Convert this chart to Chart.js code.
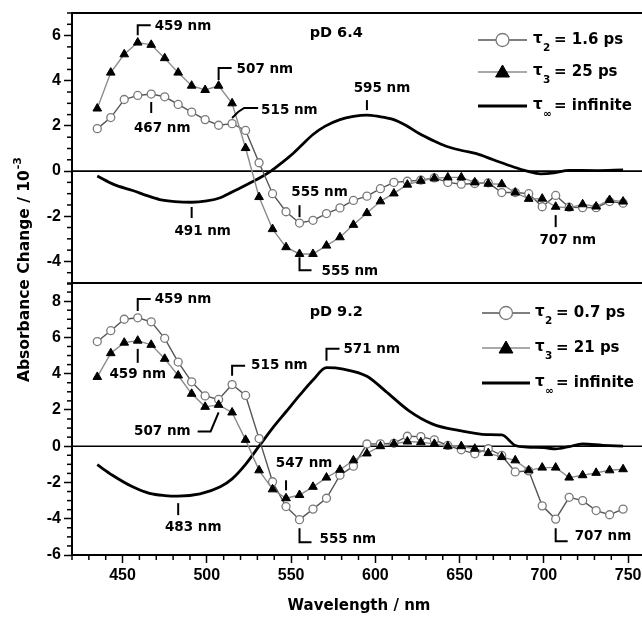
<!DOCTYPE html>
<html><head><meta charset="utf-8">
<script src="https://cdn.jsdelivr.net/npm/chart.js@4.4.1/dist/chart.umd.min.js"></script>
<style>
html,body{margin:0;padding:0;background:#fff;overflow:hidden;width:642px;height:618px;}
canvas{position:absolute;left:0;top:0;}
</style></head><body>
<canvas id="cTop" width="660" height="618"></canvas>
<canvas id="cBot" width="660" height="618"></canvas>
<script>
// ---- data ----
const wavelengths = [435,443,451,459,467,475,483,491,499,507,515,523,531,539,547,555,563,571,579,587,595,603,611,619,627,635,643,651,659,667,675,683,691,699,707,715,723,731,739,747];

// pD 6.4
const top_tau2 = [1.88,2.37,3.17,3.35,3.41,3.29,2.95,2.61,2.28,2.03,2.1,1.8,0.37,-1.0,-1.8,-2.3,-2.18,-1.88,-1.63,-1.3,-1.11,-0.78,-0.5,-0.45,-0.4,-0.3,-0.5,-0.58,-0.55,-0.52,-0.95,-0.95,-1.0,-1.58,-1.08,-1.6,-1.62,-1.62,-1.35,-1.42];
const top_tau3 = [2.77,4.36,5.17,5.69,5.59,5.0,4.36,3.78,3.59,3.78,3.0,1.02,-1.15,-2.57,-3.37,-3.67,-3.67,-3.3,-2.93,-2.38,-1.86,-1.34,-0.99,-0.6,-0.43,-0.32,-0.28,-0.28,-0.5,-0.56,-0.58,-0.95,-1.23,-1.22,-1.58,-1.63,-1.47,-1.57,-1.28,-1.35];
const top_inf_wl = [435,445,456,465,472,481,491,500,508,513,519,525,531,538,545,551,557,563,570,579,587,595,602,610,618,626,634,642,652,660,670,682,690,698,706,715,731,747];
const top_inf = [-0.22,-0.6,-0.86,-1.1,-1.26,-1.35,-1.38,-1.32,-1.18,-1.0,-0.78,-0.55,-0.32,0.0,0.4,0.77,1.2,1.62,1.98,2.28,2.42,2.48,2.42,2.3,2.03,1.66,1.36,1.1,0.9,0.77,0.5,0.18,0.0,-0.12,-0.08,0.03,0.02,0.05];

// pD 9.2
const bot_tau2 = [5.77,6.37,7.0,7.08,6.86,5.95,4.64,3.55,2.77,2.58,3.4,2.8,0.42,-1.96,-3.33,-4.05,-3.47,-2.87,-1.6,-1.1,0.12,0.13,0.16,0.55,0.53,0.35,0.04,-0.2,-0.42,-0.14,-0.51,-1.42,-1.36,-3.29,-4.02,-2.82,-3.0,-3.55,-3.78,-3.47];
const bot_tau3 = [3.82,5.13,5.71,5.82,5.59,4.82,3.9,2.89,2.17,2.28,1.86,0.35,-1.33,-2.38,-2.87,-2.69,-2.24,-1.73,-1.3,-0.78,-0.4,0.0,0.13,0.26,0.22,0.13,0.0,0.0,-0.14,-0.38,-0.6,-0.78,-1.33,-1.18,-1.18,-1.73,-1.6,-1.47,-1.33,-1.27];
const bot_inf_wl = [435,444,456,466,475,483,496,508,515,523,531,539,547,555,563,571,581,595,606,620,634,650,666,675,683,690,700,707,715,723,735,747];
const bot_inf = [-1.02,-1.6,-2.24,-2.6,-2.72,-2.75,-2.63,-2.24,-1.8,-1.0,0.0,1.0,1.9,2.8,3.65,4.33,4.25,3.86,3.04,1.95,1.22,0.86,0.64,0.62,0.04,-0.05,-0.08,-0.15,-0.02,0.12,0.05,0.0];

const top_labels = ['1.6 ps','25 ps','infinite'];
const bot_labels = ['0.7 ps','21 ps','infinite'];
const xTickLabels = [450,500,550,600,650,700,750];
const yTickLabelsTop = [-4,-2,0,2,4,6];
const yTickLabelsBot = [-6,-4,-2,0,2,4,6,8];

// ---- styling ----
const ANN_FONT = 'bold 13.5px "DejaVu Sans"';
const LEG_FONT = 'bold 15px "DejaVu Sans"';
const SUB_FONT = 'bold 10.5px "DejaVu Sans"';
const TICK_FONT = {family:'"Liberation Sans", Arial, sans-serif', weight:'bold', size:16};

const pts = (xs, ys) => xs.map((x,i)=>({x, y: ys[i]}));

function datasets(t2, t3, wlInf, inf){
  return [
    {label:'tau3', data:pts(wavelengths,t3), borderColor:'#8c8c8c', borderWidth:1.4, pointStyle:'triangle',
     pointRadius:5, pointBackgroundColor:'#000', pointBorderColor:'#000', pointBorderWidth:1, tension:0},
    {label:'tau2', data:pts(wavelengths,t2), borderColor:'#555', borderWidth:1.4, pointStyle:'circle',
     pointRadius:4, pointBackgroundColor:'#fff', pointBorderColor:'#7a7a7a', pointBorderWidth:1.3, tension:0},
    {label:'tauInf', data:pts(wlInf,inf), borderColor:'#000', borderWidth:2.8, pointRadius:0,
     cubicInterpolationMode:'monotone'}
  ];
}

const panelPlugin = {
  id:'panel',
  beforeDatasetsDraw(chart, args, o){
    const {ctx, chartArea:a, scales:{y}} = chart;
    ctx.save();
    ctx.strokeStyle='#000'; ctx.lineWidth=1.6;
    const y0 = y.getPixelForValue(0);
    ctx.beginPath(); ctx.moveTo(a.left, y0); ctx.lineTo(a.right+20, y0); ctx.stroke();
    ctx.restore();
  },
  afterDatasetsDraw(chart, args, o){
    const {ctx, chartArea:a, scales:{x,y}} = chart;
    ctx.save();
    ctx.strokeStyle='#000'; ctx.fillStyle='#000';
    ctx.lineWidth=2;
    ctx.beginPath(); ctx.moveTo(a.left-1, a.top); ctx.lineTo(a.right+20, a.top); ctx.stroke();
    ctx.lineWidth=1.5;
    y.ticks.forEach(t=>{
      if (Math.abs(t.value % 2) > 1e-6){
        const py = y.getPixelForValue(t.value);
        ctx.beginPath(); ctx.moveTo(a.left-5, py); ctx.lineTo(a.left, py); ctx.stroke();
      }
    });
    if (o.xMinor){
      x.ticks.forEach(t=>{
        if (Math.abs(t.value % 50) > 1e-6){
          const px = x.getPixelForValue(t.value);
          ctx.beginPath(); ctx.moveTo(px, a.bottom); ctx.lineTo(px, a.bottom+5); ctx.stroke();
        }
      });
    }
    ctx.lineWidth=2;
    (o.annotations||[]).forEach(an=>{
      const px = x.getPixelForValue(an.at[0]), py = y.getPixelForValue(an.at[1]);
      if (an.path){
        ctx.beginPath();
        an.path.forEach(([dx,dy],i)=> i ? ctx.lineTo(px+dx,py+dy) : ctx.moveTo(px+dx,py+dy));
        ctx.stroke();
      }
      ctx.font = an.font || ANN_FONT;
      ctx.textAlign = an.align || 'center';
      ctx.textBaseline = 'middle';
      ctx.fillText(an.text, px+an.t[0], py+an.t[1]);
    });
    const L = o.legend;
    if (L){
      L.rows.forEach((r,i)=>{
        const ry = L.y[i];
        ctx.lineWidth = r.kind==='line' ? 2.8 : 1.5;
        ctx.strokeStyle = r.kind==='line' ? '#000' : (r.kind==='circle' ? '#555' : '#8c8c8c');
        ctx.beginPath(); ctx.moveTo(L.x0, ry); ctx.lineTo(L.x1, ry); ctx.stroke();
        const mx = (L.x0+L.x1)/2;
        if (r.kind==='circle'){
          ctx.fillStyle='#fff'; ctx.strokeStyle='#7a7a7a'; ctx.lineWidth=1.3;
          Chart.helpers.drawPoint(ctx, {pointStyle:'circle', radius:6.5, borderWidth:1.3}, mx, ry);
        } else if (r.kind==='triangle'){
          ctx.fillStyle='#000'; ctx.strokeStyle='#000'; ctx.lineWidth=1;
          Chart.helpers.drawPoint(ctx, {pointStyle:'triangle', radius:8, borderWidth:1}, mx, ry+1);
        }
        ctx.fillStyle='#000';
        ctx.textAlign='left'; ctx.textBaseline='middle';
        ctx.font = LEG_FONT;
        ctx.fillText('\u03c4', L.tx, ry-1);
        ctx.font = SUB_FONT;
        ctx.fillText(r.sub, L.tx+10, ry+8);
        ctx.font = LEG_FONT;
        ctx.fillText('= ' + r.text, L.tx+21, ry);
      });
    }
    ctx.restore();
  },
  afterDraw(chart, args, o){
    const {ctx} = chart;
    if (!o.titles) return;
    ctx.save();
    ctx.fillStyle='#000';
    ctx.font='bold 15px "DejaVu Sans"';
    ctx.textAlign='center'; ctx.textBaseline='middle';
    ctx.fillText('Wavelength / nm', 359, 606);
    ctx.translate(25, 270);
    ctx.rotate(-Math.PI/2);
    const main = 'Absorbance Change / 10';
    ctx.font='bold 15.5px "DejaVu Sans"';
    const w1 = ctx.measureText(main).width;
    ctx.font='bold 11px "DejaVu Sans"';
    const w2 = ctx.measureText('-3').width;
    const sx = -(w1+w2)/2;
    ctx.textAlign='left';
    ctx.font='bold 15.5px "DejaVu Sans"';
    ctx.fillText(main, sx, 0);
    ctx.font='bold 11px "DejaVu Sans"';
    ctx.fillText('-3', sx+w1+1, -7);
    ctx.restore();
  }
};

function yScale(min, max, labels){
  return {
    min, max,
    afterFit(s){ s.width = 72; },
    ticks:{stepSize:0.5, autoSkip:false, color:'#000', font:TICK_FONT, padding:3,
      callback:(v)=> labels.includes(v) ? String(v) : ''},
    grid:{drawOnChartArea:false, drawTicks:true, tickLength:8, tickWidth:1.5,
      tickColor:(c)=> (c.tick && Math.abs(c.tick.value % 2) < 1e-6) ? '#000' : 'rgba(0,0,0,0)'},
    border:{display:true, color:'#000', width:2}
  };
}

const commonOpts = {
  responsive:false, animation:false, devicePixelRatio:1,
  plugins:{legend:{display:false}, tooltip:{enabled:false}}
};

new Chart(document.getElementById('cTop'), {
  type:'line',
  data:{datasets:datasets(top_tau2, top_tau3, top_inf_wl, top_inf)},
  options:{...commonOpts,
    layout:{padding:{left:0, top:13, right:15, bottom:618-284}},
    scales:{
      x:{type:'linear', min:420, max:760, display:false},
      y:yScale(-5, 7, yTickLabelsTop)
    },
    plugins:{...commonOpts.plugins,
      panel:{
        annotations:[
          {text:'459 nm', at:[459,6.02], path:[[0,0],[0,-10],[13,-10]], t:[17,-9], align:'left'},
          {text:'507 nm', at:[507,4.03], path:[[0,0],[0,-12],[13,-12]], t:[18,-11], align:'left'},
          {text:'515 nm', at:[515,2.35], path:[[0,0],[6,-6],[12,-10],[26,-10]], t:[29,-8], align:'left'},
          {text:'467 nm', at:[467,3.06], path:[[0,0],[0,11]], t:[11,27]},
          {text:'491 nm', at:[491,-1.59], path:[[0,0],[0,11]], t:[11,25]},
          {text:'555 nm', at:[555,-1.51], path:[[0,0],[0,12]], t:[20,-13]},
          {text:'555 nm', at:[555,-3.81], path:[[0,0],[0,13],[12,13]], t:[22,14], align:'left'},
          {text:'595 nm', at:[595,2.70], path:[[0,0],[0,-10]], t:[15,-22]},
          {text:'707 nm', at:[707,-1.95], path:[[0,0],[0,12]], t:[12,25]},
          {text:'pD 6.4', at:[561,6.11], t:[0,0], align:'left', font:'bold 14.5px "DejaVu Sans"'}
        ],
        legend:{x0:478, x1:527, tx:533, y:[40,72,106], rows:[
          {kind:'circle', sub:'2', text:top_labels[0]},
          {kind:'triangle', sub:'3', text:top_labels[1]},
          {kind:'line', sub:'\u221e', text:top_labels[2]}
        ]}
      }
    }
  },
  plugins:[panelPlugin]
});

new Chart(document.getElementById('cBot'), {
  type:'line',
  data:{datasets:datasets(bot_tau2, bot_tau3, bot_inf_wl, bot_inf)},
  options:{...commonOpts,
    layout:{padding:{left:0, top:283, right:15, bottom:0}},
    scales:{
      x:{type:'linear', min:420, max:760,
        afterFit(s){ s.height = 63; },
        ticks:{stepSize:10, autoSkip:false, maxRotation:0, color:'#000', font:TICK_FONT, padding:3,
          callback:(v)=> xTickLabels.includes(v) ? String(v) : ''},
        grid:{drawOnChartArea:false, drawTicks:true, tickLength:8, tickWidth:1.5,
          tickColor:(c)=> (c.tick && Math.abs(c.tick.value % 50) < 1e-6) ? '#000' : 'rgba(0,0,0,0)'},
        border:{display:true, color:'#000', width:2}
      },
      y:yScale(-6, 9, yTickLabelsBot)
    },
    plugins:{...commonOpts.plugins,
      panel:{
        xMinor:true, titles:true,
        annotations:[
          {text:'459 nm', at:[459,7.46], path:[[0,0],[0,-12],[13,-12]], t:[17,-11], align:'left'},
          {text:'459 nm', at:[459,5.37], path:[[0,0],[0,14]], t:[0,26]},
          {text:'515 nm', at:[515,3.89], path:[[0,0],[0,-10],[13,-10]], t:[19,-10], align:'left'},
          {text:'507 nm', at:[507,1.86], path:[[0,0],[-8,19],[-21,19]], t:[-28,19], align:'right'},
          {text:'483 nm', at:[483,-3.14], path:[[0,0],[0,12]], t:[15,24]},
          {text:'547 nm', at:[547,-1.88], path:[[0,0],[0,10]], t:[18,-17]},
          {text:'555 nm', at:[555,-4.52], path:[[0,0],[0,14],[12,14]], t:[20,11], align:'left'},
          {text:'571 nm', at:[571,4.71], path:[[0,0],[0,-12],[13,-12]], t:[17,-11], align:'left'},
          {text:'707 nm', at:[707,-4.52], path:[[0,0],[0,13],[12,13]], t:[19,8], align:'left'},
          {text:'pD 9.2', at:[561,7.4], t:[0,0], align:'left', font:'bold 14.5px "DejaVu Sans"'}
        ],
        legend:{x0:482, x1:530, tx:535, y:[313,348,383], rows:[
          {kind:'circle', sub:'2', text:bot_labels[0]},
          {kind:'triangle', sub:'3', text:bot_labels[1]},
          {kind:'line', sub:'\u221e', text:bot_labels[2]}
        ]}
      }
    }
  },
  plugins:[panelPlugin]
});
</script>
</body></html>
